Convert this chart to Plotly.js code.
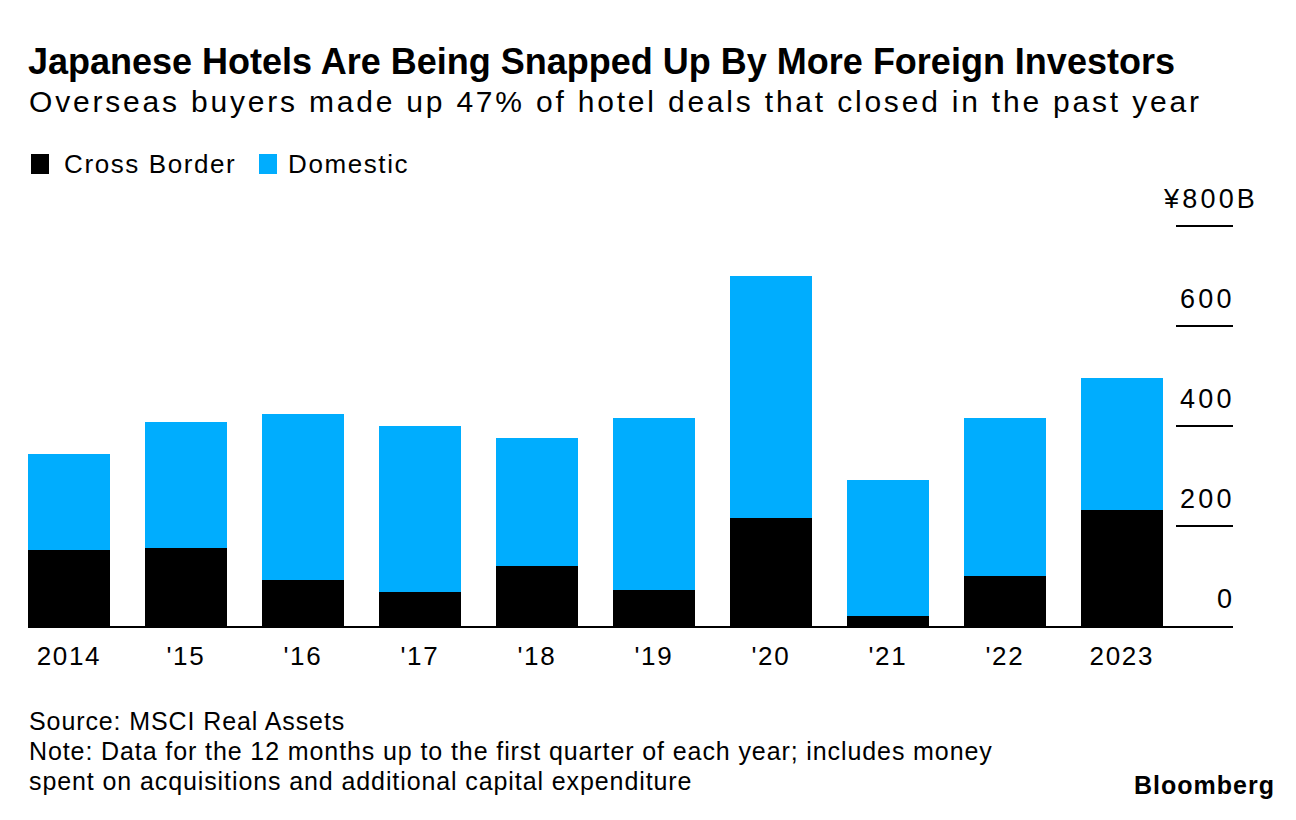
<!DOCTYPE html>
<html>
<head>
<meta charset="utf-8">
<script src="https://cdn.plot.ly/plotly-3.0.1.min.js"></script>
<style>html,body{margin:0;padding:0;background:#fff;}#chart{width:1296px;height:820px;}</style>
</head>
<body>
<div id="chart"></div>
<script>
// ---- data ----
const years = ["2014", "'15", "'16", "'17", "'18", "'19", "'20", "'21", "'22", "2023"];
const crossBorder = [152, 156, 92, 68, 120, 72, 216, 20, 100, 232];
const domestic = [192, 252, 332, 332, 256, 344, 484, 272, 316, 264];
const seriesNames = ["Cross Border", "Domestic"];
const seriesColors = ["#000000", "#00ADFE"];
const yTicks = [0, 200, 400, 600, 800];
const yTickLabels = ["0", "200", "400", "600", "¥800B"];
const titleText = "Japanese Hotels Are Being Snapped Up By More Foreign Investors";
const subtitleText = "Overseas buyers made up 47% of hotel deals that closed in the past year";
const footerLines = ["Source: MSCI Real Assets",
  "Note: Data for the 12 months up to the first quarter of each year; includes money",
  "spent on acquisitions and additional capital expenditure"];
const brandText = "Bloomberg";

const FONT = "Liberation Sans, Arial, Helvetica, sans-serif";
const W = 1296, H = 820;
const L = 28, R = 63, T = 224, B = 194;
const pw = W - L - R, ph = H - T - B;
const px2x = p => (p - L) / pw;
const py2y = p => (H - B - p) / ph;
const sp = (t, ls) => '<span style="letter-spacing:' + ls + 'px">' + t + '</span>';

const xIdx = years.map((_, i) => i);
const traces = [
  {type: 'bar', x: xIdx, y: crossBorder, name: seriesNames[0], marker: {color: seriesColors[0], line: {width: 0}}, hoverinfo: 'x+y'},
  {type: 'bar', x: xIdx, y: domestic, name: seriesNames[1], marker: {color: seriesColors[1], line: {width: 0}}, hoverinfo: 'x+y'}
];

const annotations = [];
// subtitle
annotations.push({xref: 'paper', yref: 'paper', x: px2x(28), y: py2y(102), xanchor: 'left', yanchor: 'middle',
  text: sp(subtitleText, 2.8), showarrow: false, borderpad: 0, font: {family: FONT, size: 30, color: '#000'}});
// legend texts
const legSq = [31, 259];
const legTx = [63, 287];
seriesNames.forEach((n, i) => {
  annotations.push({xref: 'paper', yref: 'paper', x: px2x(legTx[i]), y: py2y(164), xanchor: 'left', yanchor: 'middle',
    text: sp(n, 1.6), showarrow: false, borderpad: 0, font: {family: FONT, size: 26, color: '#000'}});
});
// y tick labels
yTicks.forEach((v, i) => {
  const top = i === yTicks.length - 1;
  annotations.push({xref: 'paper', yref: 'y', x: 1, y: v, xanchor: 'right', yanchor: 'bottom', yshift: 11,
    xshift: top ? 26 : 3,
    text: sp(yTickLabels[i], 3.2), showarrow: false, font: {family: FONT, size: 27, color: '#000'}, borderpad: 0});
});
// footer
footerLines.forEach((t, i) => {
  annotations.push({xref: 'paper', yref: 'paper', x: px2x(28), y: py2y(721 + 30 * i), xanchor: 'left', yanchor: 'middle',
    text: sp(t, 0.9), showarrow: false, borderpad: 0, font: {family: FONT, size: 25, color: '#000'}});
});
annotations.push({xref: 'paper', yref: 'paper', x: px2x(1133), y: py2y(785), xanchor: 'left', yanchor: 'middle',
  text: '<b>' + sp(brandText, 1.0) + '</b>', showarrow: false, borderpad: 0, font: {family: FONT, size: 25, color: '#000'}});

const shapes = seriesColors.map((c, i) => ({type: 'rect', xref: 'paper', yref: 'paper',
  x0: px2x(legSq[i]), x1: px2x(legSq[i] + 18), y0: py2y(154), y1: py2y(174), fillcolor: c, line: {width: 0}}));

const layout = {
  width: W, height: H,
  margin: {l: L, r: R, t: T, b: B, pad: 0},
  paper_bgcolor: '#fff', plot_bgcolor: '#fff',
  barmode: 'stack', bargap: 0.3,
  showlegend: false,
  title: {text: '<b>' + titleText + '</b>', x: 28 / W, xanchor: 'left', xref: 'container',
    y: 1 - 61 / H, yanchor: 'middle', yref: 'container', font: {family: FONT, size: 36, color: '#000'}},
  xaxis: {type: 'linear', range: [-0.35, 9.95], tickvals: xIdx, ticktext: years.map(t => sp(t, 1.7)), showgrid: false, zeroline: false,
    showline: true, linecolor: '#000', linewidth: 2, ticks: '', ticklabelstandoff: 6,
    tickfont: {family: FONT, size: 26, color: '#000'}, fixedrange: true},
  yaxis: {range: [0, 804], side: 'right', tickvals: yTicks.slice(1), ticks: 'inside', ticklen: 57, tickwidth: 2,
    tickcolor: '#000', showticklabels: false, showgrid: false, zeroline: false, showline: false, fixedrange: true},
  annotations: annotations,
  shapes: shapes
};
Plotly.newPlot('chart', traces, layout, {displayModeBar: false, staticPlot: true});
</script>
</body>
</html>
